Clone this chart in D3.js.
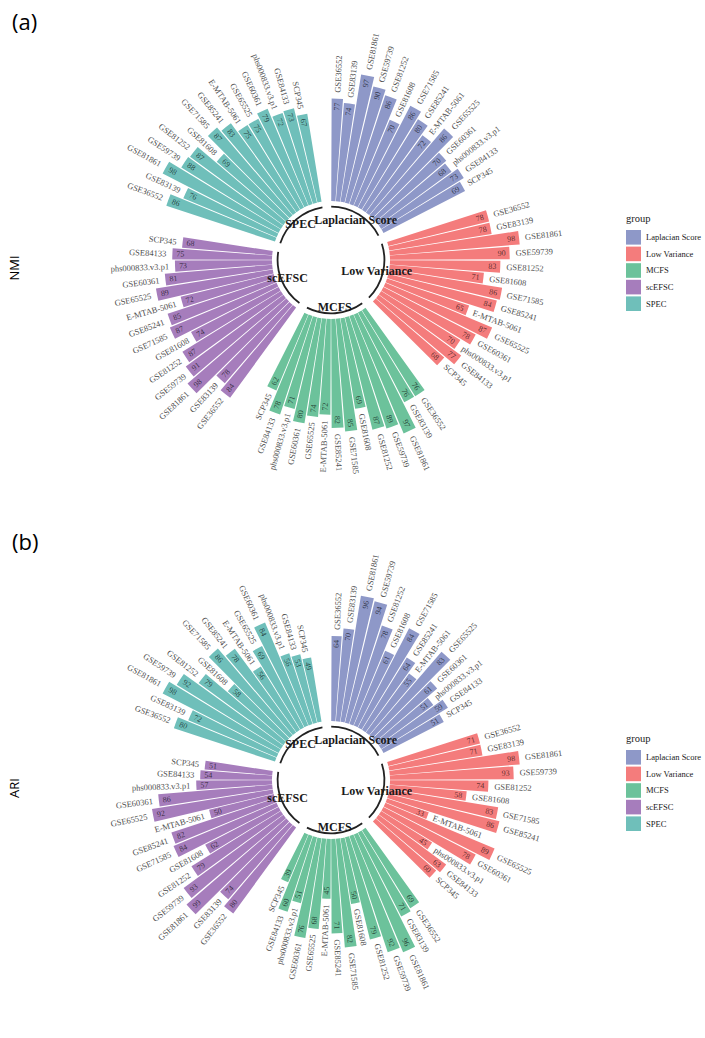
<!DOCTYPE html>
<html>
<head>
<meta charset="utf-8">
<script src="https://cdn.jsdelivr.net/npm/d3@7"></script>
<style>
  body { margin: 0; background: #fff; }
</style>
</head>
<body>
<div id="chart"></div>
<script>
// datasets, in the order they go round each group (clockwise)
const datasets = ['GSE36552', 'GSE83139', 'GSE81861', 'GSE59739', 'GSE81252', 'GSE81608', 'GSE71585',
  'GSE85241', 'E-MTAB-5061', 'GSE65525', 'GSE60361', 'phs000833.v3.p1', 'GSE84133', 'SCP345'];
const groups = ['Laplacian Score', 'Low Variance', 'MCFS', 'scEFSC', 'SPEC'];
const groupColors = ['#8e98c8', '#f47c7c', '#6cc29b', '#a67dbc', '#6fbfba'];

// (a) NMI
const nmiLaplacian = [77, 74, 97, 90, 86, 70, 86, 80, 72, 86, 70, 68, 73, 69];
const nmiLowVariance = [78, 78, 98, 90, 83, 71, 86, 84, 65, 87, 78, 70, 77, 68];
const nmiMCFS = [76, 76, 97, 89, 87, 69, 85, 82, 72, 74, 80, 71, 78, 62];
const nmiScEFSC = [84, 78, 98, 91, 87, 74, 87, 85, 72, 89, 81, 73, 75, 68];
const nmiSPEC = [86, 76, 98, 88, 87, 69, 87, 83, 75, 75, 79, 72, 73, 67];

// (b) ARI
const ariLaplacian = [64, 70, 96, 94, 78, 61, 84, 64, 55, 83, 61, 51, 59, 51];
const ariLowVariance = [71, 71, 98, 93, 74, 58, 83, 86, 33, 89, 78, 45, 63, 60];
const ariMCFS = [69, 71, 96, 92, 79, 50, 82, 71, 45, 68, 76, 51, 60, 39];
const ariScEFSC = [80, 74, 99, 93, 79, 62, 84, 82, 50, 92, 86, 57, 54, 51];
const ariSPEC = [80, 72, 98, 92, 79, 58, 86, 78, 56, 69, 84, 56, 53, 49];

const emptyBars = 2;   // blank slots after each group
const width = 705, height = 1038;

const svg = d3.select('#chart').append('svg')
  .attr('width', width)
  .attr('height', height)
  .style('font-family', '"Liberation Serif", "DejaVu Serif", serif');

// build one row per slot, empty slots carry no value
function buildRows(seriesList) {
  const rows = [];
  seriesList.forEach((values, g) => {
    values.forEach((v, i) => rows.push({ group: g, name: datasets[i], value: v }));
    for (let k = 0; k < emptyBars; k++) rows.push({ group: g, name: null, value: null });
  });
  return rows.map((d, i) => ({ ...d, id: i }));
}

function drawPanel(seriesList, cx, cy, tag, metric) {
  const rows = buildRows(seriesList);
  const bars = rows.filter(d => d.value !== null);

  const x = d3.scaleBand()
    .domain(rows.map(d => d.id))
    .range([0, 2 * Math.PI])
    .paddingInner(0.1)
    .paddingOuter(0.05);
  const r = d3.scaleLinear().domain([0, 100]).range([59, 192]);

  const mid = d => x(d.id) + x.bandwidth() / 2;
  const deg = a => a * 180 / Math.PI;

  // panel tag and metric title
  svg.append('text')
    .attr('x', 12).attr('y', cy - 230)
    .style('font-family', '"Open Sans", "Liberation Sans", sans-serif')
    .style('font-size', '22px')
    .text(tag);
  svg.append('text')
    .attr('transform', `translate(19,${cy + 8}) rotate(-90)`)
    .attr('text-anchor', 'middle')
    .style('font-family', '"Open Sans", "Liberation Sans", sans-serif')
    .style('font-size', '13px')
    .text(metric);

  const g = svg.append('g').attr('transform', `translate(${cx},${cy})`);

  const arc = d3.arc()
    .innerRadius(r(0))
    .outerRadius(d => r(d.value))
    .startAngle(d => x(d.id))
    .endAngle(d => x(d.id) + x.bandwidth());

  g.selectAll('path.bar')
    .data(bars)
    .enter()
    .append('path')
    .attr('class', 'bar')
    .attr('d', arc)
    .attr('fill', d => groupColors[d.group]);

  // value inside the bar end
  g.selectAll('text.value')
    .data(bars)
    .enter()
    .append('text')
    .attr('class', 'value')
    .attr('transform', d => {
      const a = mid(d), rr = r(d.value) - 8;
      const rot = deg(a) < 180 ? deg(a) - 90 : deg(a) + 90;
      return `translate(${rr * Math.sin(a)},${-rr * Math.cos(a)}) rotate(${rot})`;
    })
    .attr('text-anchor', 'middle')
    .attr('dominant-baseline', 'central')
    .style('font-size', '8px')
    .attr('fill', '#000')
    .attr('fill-opacity', 0.65)
    .text(d => d.value);

  // dataset name past the bar end
  g.selectAll('text.name')
    .data(bars)
    .enter()
    .append('text')
    .attr('class', 'name')
    .attr('transform', d => {
      const a = mid(d), rr = r(d.value) + 6;
      const rot = deg(a) < 180 ? deg(a) - 90 : deg(a) + 90;
      return `translate(${rr * Math.sin(a)},${-rr * Math.cos(a)}) rotate(${rot})`;
    })
    .attr('text-anchor', d => deg(mid(d)) < 180 ? 'start' : 'end')
    .attr('dominant-baseline', 'central')
    .style('font-size', '8.5px')
    .attr('fill', '#505050')
    .text(d => d.name);

  // base arcs and group names
  groups.forEach((name, gi) => {
    const members = bars.filter(d => d.group === gi);
    const a0 = x(members[0].id);
    const a1 = x(members[members.length - 1].id) + x.bandwidth();
    g.append('path')
      .attr('d', d3.arc().innerRadius(52.5).outerRadius(54.3).startAngle(a0).endAngle(a1)())
      .attr('fill', '#222');
    const am = (a0 + a1) / 2;
    g.append('text')
      .attr('x', 47 * Math.sin(am))
      .attr('y', -47 * Math.cos(am))
      .attr('text-anchor', 'middle')
      .attr('dominant-baseline', 'central')
      .style('font-size', '12px')
      .style('font-weight', 'bold')
      .attr('fill', '#1a1a1a')
      .text(name);
  });

  // legend
  const legend = svg.append('g').attr('transform', `translate(626,${cy - 38})`);
  legend.append('text')
    .attr('x', 0).attr('y', 0)
    .style('font-size', '10.5px')
    .attr('fill', '#222')
    .text('group');
  const item = legend.selectAll('g.item')
    .data(groups)
    .enter()
    .append('g')
    .attr('class', 'item')
    .attr('transform', (d, i) => `translate(0,${8 + i * 16.6})`);
  item.append('rect')
    .attr('width', 15).attr('height', 14.6)
    .attr('fill', (d, i) => groupColors[i]);
  item.append('text')
    .attr('x', 20).attr('y', 7.3)
    .attr('dominant-baseline', 'central')
    .style('font-size', '8.5px')
    .attr('fill', '#222')
    .text(d => d);
}

drawPanel([nmiLaplacian, nmiLowVariance, nmiMCFS, nmiScEFSC, nmiSPEC], 331, 260, '(a)', 'NMI');
drawPanel([ariLaplacian, ariLowVariance, ariMCFS, ariScEFSC, ariSPEC], 331, 780, '(b)', 'ARI');
</script>
</body>
</html>
